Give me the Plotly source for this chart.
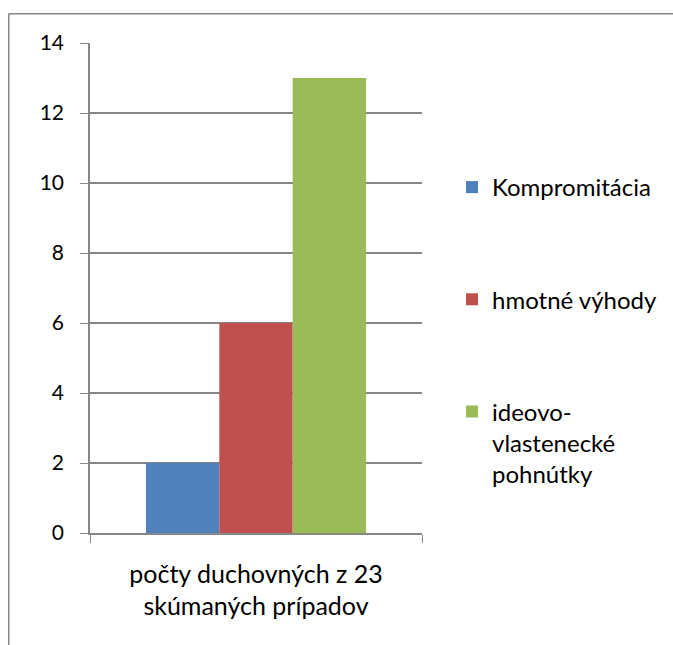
import plotly.graph_objects as go

category = ["počty duchovných z 23<br>skúmaných prípadov"]
series_names = ["Kompromitácia", "hmotné výhody", "ideovo-<br>vlastenecké<br>pohnútky"]
series_values = [[2], [6], [13]]
series_colors = ["#4F81BD", "#C0504D", "#9BBB59"]
y_ticks = [0, 2, 4, 6, 8, 10, 12, 14]

W, H = 673, 645
L, R, T, B = 90, 422, 43, 533  # plot area in pixels


def px_x(p):
    return (p - L) / (R - L)


def px_y(p):
    return (B - p) / (B - T)


fig = go.Figure()
for name, vals, col in zip(series_names, series_values, series_colors):
    fig.add_trace(
        go.Bar(
            x=category,
            y=vals,
            name=name,
            marker=dict(color=col, line=dict(width=0)),
            legendgroup=name,
        )
    )

axis_gray = "#868686"
font = dict(family="Lato, 'Open Sans', sans-serif", size=24, color="#000000")

# chart-area frame: only its top and left edges fall inside the window
frame = dict(type="line", xref="paper", yref="paper",
             line=dict(color=axis_gray, width=1.5), layer="below")

fig.update_layout(
    width=W,
    height=H,
    margin=dict(l=L, r=W - R, t=T, b=H - B, autoexpand=False),
    paper_bgcolor="white",
    plot_bgcolor="white",
    font=font,
    barmode="group",
    bargap=0.337,
    bargroupgap=0,
    showlegend=True,
    legend=dict(
        x=px_x(452),
        xanchor="left",
        y=px_y(165),
        yanchor="top",
        valign="top",
        tracegroupgap=78,
        itemwidth=30,
        bgcolor="rgba(0,0,0,0)",
        font=font,
    ),
    xaxis=dict(
        showline=True,
        linecolor=axis_gray,
        linewidth=1.5,
        ticks="outside",
        tickson="boundaries",
        ticklen=8,
        tickcolor=axis_gray,
        showgrid=False,
        tickfont=dict(font, size=25),
        ticklabelstandoff=18,
        fixedrange=True,
    ),
    yaxis=dict(
        range=[0, 14],
        tickvals=y_ticks,
        showline=True,
        linecolor=axis_gray,
        linewidth=1.5,
        ticks="outside",
        ticklen=8,
        tickcolor=axis_gray,
        showgrid=True,
        gridcolor=axis_gray,
        gridwidth=1.5,
        zeroline=False,
        tickfont=dict(font, size=21),
        ticklabelstandoff=12,
        fixedrange=True,
    ),
    shapes=[
        dict(frame, x0=px_x(8.75), x1=px_x(W), y0=px_y(13.75), y1=px_y(13.75)),
        dict(frame, x0=px_x(8.75), x1=px_x(8.75), y0=px_y(13.75), y1=px_y(H)),
    ],
)

# drop the default 8px page margin so figure pixels match the window
fig.write_html(
    "out.html",
    config={"displayModeBar": False},
    post_script="document.body.style.margin='0';document.body.style.overflow='hidden';",
)
